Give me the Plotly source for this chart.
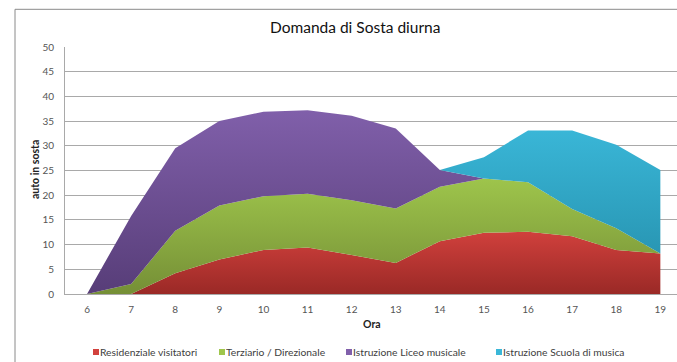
import plotly.graph_objects as go

# Hours of the day (category axis)
ore = [6, 7, 8, 9, 10, 11, 12, 13, 14, 15, 16, 17, 18, 19]

# Parked cars per use, stacked
residenziale = [0, 0, 4.2, 7.0, 8.9, 9.4, 7.9, 6.3, 10.7, 12.4, 12.6, 11.7, 8.9, 8.2]
terziario = [0, 2.0, 8.6, 10.9, 10.9, 10.9, 11.1, 11.0, 11.0, 11.0, 10.0, 5.5, 4.4, 0]
liceo = [0, 13.8, 16.7, 17.1, 17.1, 16.9, 17.1, 16.2, 3.4, 0, 0, 0, 0, 0]
scuola = [0, 0, 0, 0, 0, 0, 0, 0, 0, 4.3, 10.5, 15.9, 16.9, 16.9]

serie = [
    ("Residenziale visitatori", residenziale, "#9a2926", "#d2413d", 13),
    ("Terziario / Direzionale", terziario, "#758f36", "#9fc64c", 24),
    ("Istruzione Liceo musicale", liceo, "#573d78", "#8160ab", 38),
    ("Istruzione Scuola di musica", scuola, "#238ca8", "#3ab7d8", 34),
]

W, H = 677, 362
L, R, T, B = 65, 0, 47, 68
PW, PH = W - L - R, H - T - B


def px(x):
    return (x - L) / PW


def py(y):
    return (H - B - y) / PH


fig = go.Figure()
for nome, valori, c0, c1, top in serie:
    fig.add_trace(go.Scatter(
        x=ore, y=valori, name=nome, stackgroup="one",
        mode="lines", line=dict(width=0, color=c1),
        fillgradient=dict(type="vertical", start=0, stop=top,
                          colorscale=[[0, c0], [1, c1]]),
        showlegend=False, hoverinfo="x+y+name",
    ))

grid = "#a9a9a9"
font = "Lato"

shapes = [
    # outer chart frame
    dict(type="rect", xref="paper", yref="paper",
         x0=px(15), x1=px(720), y0=py(9.3), y1=py(400),
         line=dict(color="#8a8a8a", width=1), layer="below"),
]
annotations = [
    dict(text="Domanda di Sosta diurna", xref="paper", yref="paper",
         x=px(355), y=py(27), xanchor="center", yanchor="middle",
         showarrow=False,
         font=dict(family=font, size=15.5, color="#111111")),
    dict(text="<b>auto in sosta</b>", xref="paper", yref="paper",
         x=px(35), y=py(170), xanchor="center", yanchor="middle",
         textangle=-90, showarrow=False,
         font=dict(family=font, size=10.5, color="#222222")),
    dict(text="<b>Ora</b>", xref="paper", yref="paper",
         x=px(372), y=py(324), xanchor="center", yanchor="middle",
         showarrow=False,
         font=dict(family=font, size=10.5, color="#222222")),
]

# legend entries
leg_x = [93, 219, 346, 496]
for (nome, _, c0, c1, _t), lx in zip(serie, leg_x):
    shapes.append(dict(type="rect", xref="paper", yref="paper",
                       x0=px(lx), x1=px(lx + 6), y0=py(355), y1=py(349),
                       fillcolor=c1, line=dict(width=0)))
    annotations.append(dict(text=nome, xref="paper", yref="paper",
                            x=px(lx + 5), y=py(352),
                            xanchor="left", yanchor="middle",
                            showarrow=False,
                            font=dict(family=font, size=10.3, color="#404040")))

fig.update_layout(
    width=W, height=H,
    margin=dict(l=L, r=R, t=T, b=B),
    paper_bgcolor="white", plot_bgcolor="white",
    shapes=shapes, annotations=annotations,
    showlegend=False,
    xaxis=dict(
        range=[5.5, 5.5 + PW / 44.1], tickvals=ore,
        showgrid=False, zeroline=False,
        showline=True, linecolor=grid, linewidth=1,
        ticks="", ticklabelstandoff=6,
        tickfont=dict(family=font, size=10, color="#555555"),
    ),
    yaxis=dict(
        range=[0, 50], dtick=5,
        showgrid=True, gridcolor=grid, gridwidth=1,
        zeroline=False, showline=True, linecolor=grid, linewidth=1,
        ticks="", ticklabelstandoff=8,
        tickfont=dict(family=font, size=10, color="#555555"),
    ),
)

fig.write_html("out.html")
